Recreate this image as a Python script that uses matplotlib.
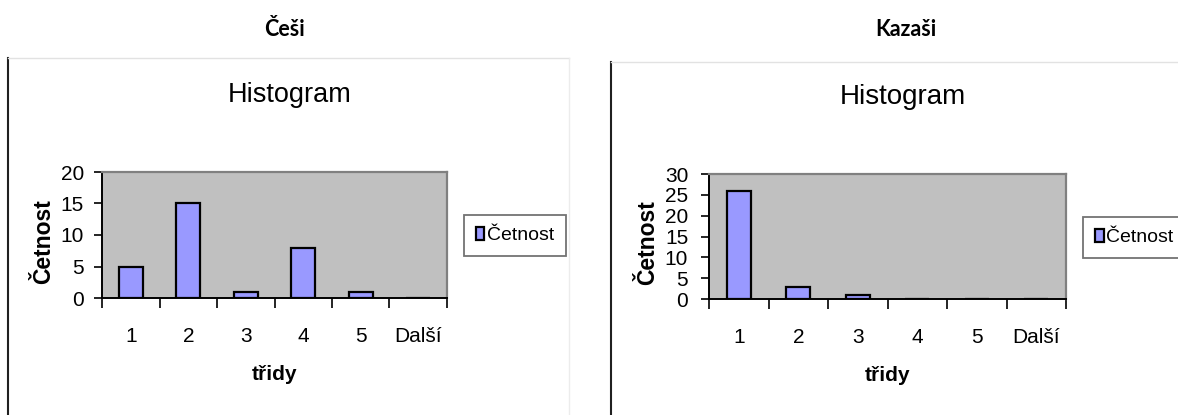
import matplotlib
matplotlib.use("Agg")
import matplotlib.pyplot as plt
from matplotlib.lines import Line2D
from matplotlib.ticker import FixedLocator, MultipleLocator

# ---------------------------------------------------------------------------
# Data
# ---------------------------------------------------------------------------

CATEGORIES = ["1", "2", "3", "4", "5", "Další"]
CESI       = [5, 15, 1, 8, 1, 0]
KAZASI     = [26, 3, 1, 0, 0, 0]

W, H = 1178, 415
PLOT_BG = "#C0C0C0"
BAR     = "#9999FF"
FONT    = "Liberation Sans"

fig = plt.figure(figsize=(W / 100, H / 100), dpi=100)
fig.patch.set_facecolor("white")


def rect(x0, y0, x1, y1):
    """Pixel box (top-left origin) -> figure fraction [l, b, w, h]."""
    return [x0 / W, 1 - y1 / H, (x1 - x0) / W, (y1 - y0) / H]


def fline(xs, ys, **kw):
    fig.add_artist(Line2D([x / W for x in xs], [1 - y / H for y in ys],
                          transform=fig.transFigure, **kw))


def draw_panel(box, values, ymax, ylab_x, xlab_y, legend_xy, ypad):
    ax = fig.add_axes(rect(*box))
    ax.set_facecolor(PLOT_BG)
    x = range(len(CATEGORIES))
    ax.bar(x, values, width=0.41, color=BAR, edgecolor="black",
           linewidth=1.6, label="Četnost", zorder=3)

    ax.set_xlim(-0.5, len(CATEGORIES) - 0.5)
    ax.set_ylim(0, ymax)
    ax.yaxis.set_major_locator(MultipleLocator(5))
    ax.xaxis.set_major_locator(FixedLocator(list(x)))
    ax.set_xticklabels(CATEGORIES)
    ax.xaxis.set_minor_locator(FixedLocator([i - 0.5 for i in range(len(CATEGORIES) + 1)]))

    ax.tick_params(axis="x", which="major", length=0, pad=21,
                   labelsize=15, labelfontfamily=FONT)
    ax.tick_params(axis="x", which="minor", length=7, width=1.2, direction="out")
    ax.tick_params(axis="y", length=6, width=1.2, pad=ypad,
                   labelsize=15, labelfontfamily=FONT)

    for side in ("top", "right"):
        ax.spines[side].set_color("#808080")
        ax.spines[side].set_linewidth(1.6)
    for side in ("left", "bottom"):
        ax.spines[side].set_color("black")
        ax.spines[side].set_linewidth(1.4)

    ax.set_ylabel("Četnost", fontsize=16.5, fontweight="bold", fontfamily=FONT)
    ax.yaxis.set_label_coords(ylab_x, 0.45)
    ax.yaxis.label.set_va("center")
    ax.set_xlabel("třidy", fontsize=15, fontweight="bold", fontfamily=FONT)
    ax.xaxis.set_label_coords(0.5, xlab_y)
    ax.xaxis.label.set_va("center")

    leg = ax.legend(loc="center left", bbox_to_anchor=legend_xy,
                    frameon=True, fancybox=False, edgecolor="#505050",
                    prop={"family": FONT, "size": 14},
                    handlelength=0.45, handleheight=0.7, handletextpad=0.15,
                    borderpad=0.6, borderaxespad=0)
    leg.get_frame().set_linewidth(1.3)
    return ax


# ---------------------------------------------------------------------------
# Left panel — Češi
# ---------------------------------------------------------------------------

fig.text(284 / W, 1 - 29 / H, "Češi", ha="center", va="center",
         fontsize=15.5, fontweight="bold", family="Lato")
fline([8, 8], [58, 415], color="#202020", linewidth=1.5)
fline([8, 569], [58, 58], color="#e2e2e2", linewidth=1)
fline([569, 569], [58, 415], color="#ececec", linewidth=1)
fig.text(290 / W, 1 - 95 / H, "Histogram", ha="center", va="center",
         fontsize=19.5, family=FONT)
draw_panel((102, 172, 447, 298), CESI, 20, -0.168, -0.611,
           (1.049, 0.496), 7)

# ---------------------------------------------------------------------------
# Right panel — Kazaši
# ---------------------------------------------------------------------------

fig.text(906 / W, 1 - 29 / H, "Kazaši", ha="center", va="center",
         fontsize=15.5, fontweight="bold", family="Lato")
fline([611, 611], [62, 415], color="#202020", linewidth=1.5)
fline([611, 1178], [62, 62], color="#e2e2e2", linewidth=1)
fig.text(903 / W, 1 - 97 / H, "Histogram", ha="center", va="center",
         fontsize=20, family=FONT)
draw_panel((709, 174, 1066, 299), KAZASI, 30, -0.171, -0.608,
           (1.048, 0.492), 9)

fig.savefig("out.png", dpi=100, facecolor="white")
plt.close(fig)
